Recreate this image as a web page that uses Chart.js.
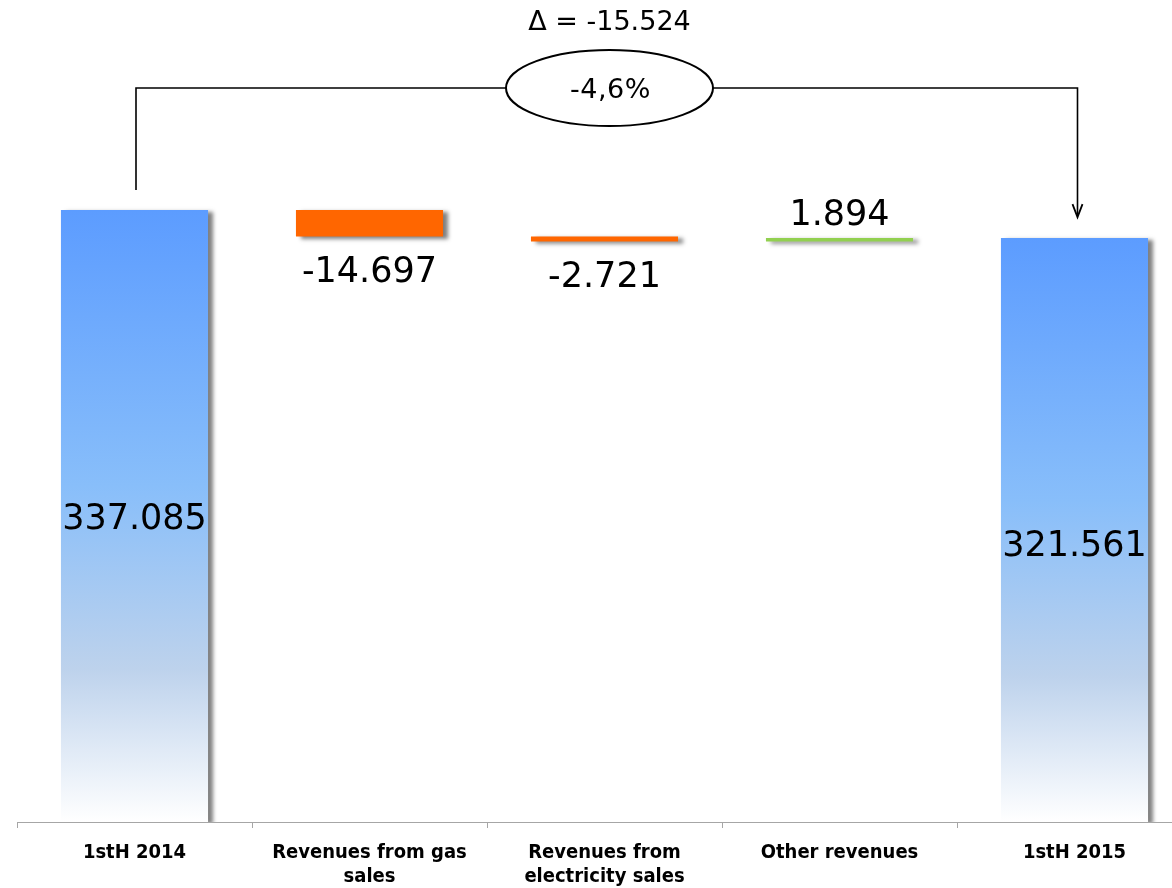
<!DOCTYPE html>
<html lang="en">
<head>
    <meta charset="UTF-8">
    <title>Revenues bridge 1stH 2014 - 1stH 2015</title>
    <script src="https://cdn.jsdelivr.net/npm/chart.js"></script>
</head>
<body style="margin:0;background:#fff;overflow:hidden;">
    <div style="position:relative;width:1192px;height:888px;">
        <canvas id="bridge"></canvas>
    </div>
    <script>
        // categories and values
        const categories = ['1stH 2014', ['Revenues from gas', 'sales'], ['Revenues from', 'electricity sales'], 'Other revenues', '1stH 2015'];
        const startTotal = 337.085;
        const endTotal = 321.561;
        const changes = [-14.697, -2.721, 1.894];
        const valueLabels = ['337.085', '-14.697', '-2.721', '1.894', '321.561'];
        const deltaText = '\u0394 = -15.524';
        const deltaPct = '-4,6%';

        // build floating bars [from, to]
        const ranges = [[0, startTotal]];
        let running = startTotal;
        changes.forEach(c => {
            ranges.push([running, running + c]);
            running += c;
        });
        ranges.push([0, endTotal]);

        const barColors = ['total', '#ff6600', '#ff6600', '#92d050', 'total'];

        function totalGradient(context) {
            const chart = context.chart;
            const area = chart.chartArea;
            if (!area) return '#7fb4fa';
            const raw = context.raw;
            const y = chart.scales.y;
            const top = y.getPixelForValue(raw[1]);
            const bottom = y.getPixelForValue(0);
            const g = chart.ctx.createLinearGradient(0, top, 0, bottom);
            g.addColorStop(0, '#5c9cff');
            g.addColorStop(0.45, '#88befa');
            g.addColorStop(0.75, '#bdd2ec');
            g.addColorStop(1, '#ffffff');
            return g;
        }

        const shadowPlugin = {
            id: 'shadow',
            beforeDatasetDraw(chart) {
                const ctx = chart.ctx;
                ctx.save();
                ctx.shadowColor = 'rgba(0,0,0,0.5)';
                ctx.shadowOffsetX = 5;
                ctx.shadowOffsetY = 2;
                ctx.shadowBlur = 4;
            },
            afterDatasetDraw(chart) {
                chart.ctx.restore();
            }
        };

        const labelsPlugin = {
            id: 'valueLabels',
            afterDatasetsDraw(chart) {
                const ctx = chart.ctx;
                const meta = chart.getDatasetMeta(0);
                ctx.save();
                ctx.fillStyle = '#000';
                ctx.textAlign = 'center';
                ctx.textBaseline = 'middle';
                ctx.font = '35px "DejaVu Sans", Verdana, sans-serif';
                meta.data.forEach((bar, i) => {
                    const r = ranges[i];
                    let ty;
                    if (i === 0) {
                        ty = (bar.y + bar.base) / 2 + 4;
                    } else if (i === ranges.length - 1) {
                        ty = (bar.y + bar.base) / 2 + 17;
                    } else if (r[1] < r[0]) {
                        ty = Math.max(bar.y, bar.base) + 36;
                    } else {
                        ty = Math.min(bar.y, bar.base) - 22;
                    }
                    ctx.fillText(valueLabels[i], bar.x, ty);
                });

                // delta connector
                const first = meta.data[0];
                const last = meta.data[meta.data.length - 1];
                const lineY = 88;
                const cx = 609.5, rx = 103.5, ry = 38;
                const x1 = first.x + 1.5;
                const x2 = last.x + 3;
                ctx.strokeStyle = '#000';
                ctx.lineWidth = 1.6;
                ctx.beginPath();
                ctx.moveTo(x1, first.y - 20);
                ctx.lineTo(x1, lineY);
                ctx.lineTo(cx - rx, lineY);
                ctx.moveTo(cx + rx, lineY);
                ctx.lineTo(x2, lineY);
                ctx.lineTo(x2, last.y - 22);
                ctx.stroke();
                // arrow head
                ctx.lineWidth = 1.8;
                ctx.beginPath();
                ctx.moveTo(x2 - 5, last.y - 34);
                ctx.lineTo(x2, last.y - 21);
                ctx.lineTo(x2 + 5, last.y - 34);
                ctx.stroke();
                // ellipse
                ctx.beginPath();
                ctx.ellipse(cx, lineY, rx, ry, 0, 0, Math.PI * 2);
                ctx.fillStyle = '#fff';
                ctx.fill();
                ctx.lineWidth = 2;
                ctx.stroke();
                ctx.fillStyle = '#000';
                ctx.font = '27px "DejaVu Sans", Verdana, sans-serif';
                ctx.letterSpacing = '0.5px';
                ctx.fillText(deltaPct, cx + 1, lineY + 3);
                ctx.letterSpacing = '0px';
                ctx.fillText(deltaText, cx, 23);
                ctx.restore();
            }
        };

        new Chart(document.getElementById('bridge'), {
            type: 'bar',
            data: {
                labels: categories,
                datasets: [{
                    data: ranges,
                    backgroundColor: ctx => barColors[ctx.dataIndex] === 'total' ? totalGradient(ctx) : barColors[ctx.dataIndex],
                    borderWidth: 0,
                    borderSkipped: false,
                    categoryPercentage: 1,
                    barPercentage: 0.626
                }]
            },
            options: {
                responsive: true,
                maintainAspectRatio: false,
                animation: false,
                layout: { padding: { left: 17, right: 0, top: 0, bottom: 0 } },
                plugins: { legend: { display: false }, tooltip: { enabled: false } },
                scales: {
                    x: {
                        afterFit(scale) { scale.height = 66; },
                        grid: { drawOnChartArea: false, color: '#a6a6a6', tickLength: 6, offset: true },
                        border: { color: '#a6a6a6', width: 1 },
                        ticks: {
                            color: '#000',
                            padding: 13,
                            maxRotation: 0,
                            autoSkip: false,
                            font: { family: '"DejaVu Sans Condensed", "DejaVu Sans", Tahoma, sans-serif', size: 20, weight: 'bold', lineHeight: '24px' }
                        }
                    },
                    y: {
                        display: false,
                        min: 0,
                        max: 452.7
                    }
                }
            },
            plugins: [shadowPlugin, labelsPlugin]
        });
    </script>
</body>
</html>
